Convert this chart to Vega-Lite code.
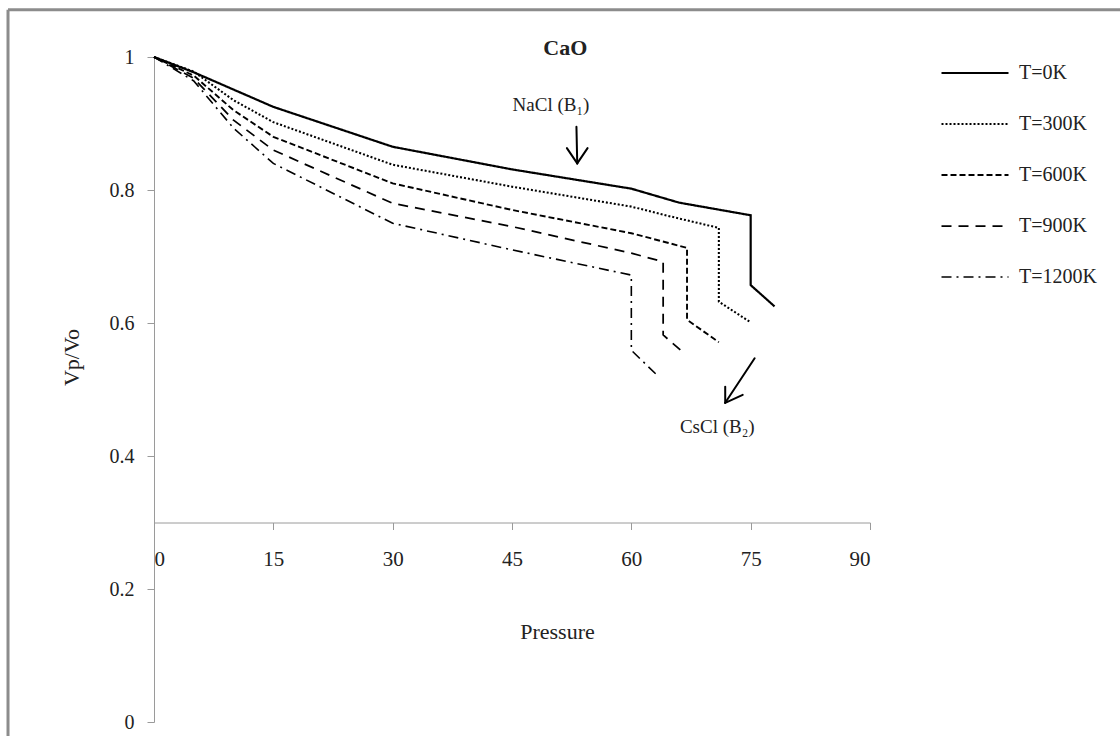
{
  "$schema": "https://vega.github.io/schema/vega-lite/v6.json",
  "width": 716,
  "height": 665,
  "autosize": {"type": "none"},
  "padding": {"left": 154, "top": 57, "right": 250, "bottom": 14},
  "background": "white",
  "config": {
    "view": {"stroke": null},
    "font": "Liberation Serif",
    "axis": {"labelFont": "Liberation Serif", "titleFont": "Liberation Serif", "grid": false, "domainColor": "#9a9a9a", "tickColor": "#9a9a9a", "labelColor": "#222", "titleColor": "#222", "titleFontWeight": "normal"},
    "legend": {"labelFont": "Liberation Serif"}
  },
  "datasets": {
    "curves": [
      {"P": 0, "V": 1, "T": "T=0K", "i": 0},
      {"P": 5, "V": 0.977, "T": "T=0K", "i": 1},
      {"P": 10, "V": 0.951, "T": "T=0K", "i": 2},
      {"P": 15, "V": 0.925, "T": "T=0K", "i": 3},
      {"P": 30, "V": 0.865, "T": "T=0K", "i": 4},
      {"P": 45, "V": 0.831, "T": "T=0K", "i": 5},
      {"P": 60, "V": 0.802, "T": "T=0K", "i": 6},
      {"P": 66, "V": 0.781, "T": "T=0K", "i": 7},
      {"P": 75, "V": 0.762, "T": "T=0K", "i": 8},
      {"P": 75, "V": 0.657, "T": "T=0K", "i": 9},
      {"P": 78, "V": 0.625, "T": "T=0K", "i": 10},
      {"P": 0, "V": 1, "T": "T=300K", "i": 0},
      {"P": 5, "V": 0.978, "T": "T=300K", "i": 1},
      {"P": 10, "V": 0.935, "T": "T=300K", "i": 2},
      {"P": 15, "V": 0.902, "T": "T=300K", "i": 3},
      {"P": 30, "V": 0.838, "T": "T=300K", "i": 4},
      {"P": 45, "V": 0.805, "T": "T=300K", "i": 5},
      {"P": 60, "V": 0.775, "T": "T=300K", "i": 6},
      {"P": 65, "V": 0.76, "T": "T=300K", "i": 7},
      {"P": 71, "V": 0.743, "T": "T=300K", "i": 8},
      {"P": 71, "V": 0.632, "T": "T=300K", "i": 9},
      {"P": 75, "V": 0.601, "T": "T=300K", "i": 10},
      {"P": 0, "V": 1, "T": "T=600K", "i": 0},
      {"P": 5, "V": 0.972, "T": "T=600K", "i": 1},
      {"P": 10, "V": 0.92, "T": "T=600K", "i": 2},
      {"P": 15, "V": 0.88, "T": "T=600K", "i": 3},
      {"P": 30, "V": 0.81, "T": "T=600K", "i": 4},
      {"P": 45, "V": 0.77, "T": "T=600K", "i": 5},
      {"P": 60, "V": 0.735, "T": "T=600K", "i": 6},
      {"P": 67, "V": 0.713, "T": "T=600K", "i": 7},
      {"P": 67, "V": 0.605, "T": "T=600K", "i": 8},
      {"P": 71, "V": 0.571, "T": "T=600K", "i": 9},
      {"P": 0, "V": 1, "T": "T=900K", "i": 0},
      {"P": 5, "V": 0.968, "T": "T=900K", "i": 1},
      {"P": 10, "V": 0.905, "T": "T=900K", "i": 2},
      {"P": 15, "V": 0.86, "T": "T=900K", "i": 3},
      {"P": 30, "V": 0.78, "T": "T=900K", "i": 4},
      {"P": 45, "V": 0.745, "T": "T=900K", "i": 5},
      {"P": 60, "V": 0.705, "T": "T=900K", "i": 6},
      {"P": 64, "V": 0.692, "T": "T=900K", "i": 7},
      {"P": 64, "V": 0.582, "T": "T=900K", "i": 8},
      {"P": 66.5, "V": 0.556, "T": "T=900K", "i": 9},
      {"P": 0, "V": 1, "T": "T=1200K", "i": 0},
      {"P": 5, "V": 0.964, "T": "T=1200K", "i": 1},
      {"P": 10, "V": 0.893, "T": "T=1200K", "i": 2},
      {"P": 15, "V": 0.84, "T": "T=1200K", "i": 3},
      {"P": 30, "V": 0.75, "T": "T=1200K", "i": 4},
      {"P": 45, "V": 0.71, "T": "T=1200K", "i": 5},
      {"P": 60, "V": 0.672, "T": "T=1200K", "i": 6},
      {"P": 60, "V": 0.559, "T": "T=1200K", "i": 7},
      {"P": 63.2, "V": 0.522, "T": "T=1200K", "i": 8}
    ],
    "arrows": [
      {"x": 53.1, "y": 0.895, "x2": 53.2, "y2": 0.84},
      {"x": 53.2, "y": 0.84, "x2": 51.9, "y2": 0.863},
      {"x": 53.2, "y": 0.84, "x2": 54.5, "y2": 0.863},
      {"x": 75.5, "y": 0.547, "x2": 71.8, "y2": 0.48},
      {"x": 71.8, "y": 0.48, "x2": 71.8, "y2": 0.504},
      {"x": 71.8, "y": 0.48, "x2": 74.0, "y2": 0.492}
    ],
    "frame": [
      {"x": -18.35, "y": -0.03, "x2": -18.35, "y2": 1.071},
      {"x": -18.35, "y": 1.071, "x2": 125, "y2": 1.071}
    ],
    "notes": [
      {"x": 49.9, "y": 0.928, "label": "NaCl (B₁)"},
      {"x": 70.8, "y": 0.444, "label": "CsCl (B₂)"}
    ],
    "title": [
      {"x": 51.7, "y": 1.013, "label": "CaO"}
    ]
  },
  "layer": [
    {
      "data": {"name": "frame"},
      "mark": {"type": "rule", "stroke": "#8c8c8c", "strokeWidth": 3, "clip": false},
      "encoding": {
        "x": {"field": "x", "type": "quantitative", "scale": {"domain": [0, 90]}},
        "y": {"field": "y", "type": "quantitative", "scale": {"domain": [0, 1]}},
        "x2": {"field": "x2"},
        "y2": {"field": "y2"}
      }
    },
    {
      "data": {"name": "curves"},
      "mark": {"type": "line", "color": "black", "strokeCap": "butt"},
      "encoding": {
        "x": {
          "field": "P", "type": "quantitative",
          "scale": {"domain": [0, 90], "nice": false},
          "axis": {
            "values": [0, 15, 30, 45, 60, 75, 90],
            "offset": -199.5,
            "tickSize": 7,
            "labelPadding": 19,
            "labelFontSize": 21,
            "title": "Pressure",
            "titleFontSize": 22,
            "titleX": 403,
            "titleY": 99,
            "titleBaseline": "top"
          }
        },
        "y": {
          "field": "V", "type": "quantitative",
          "scale": {"domain": [0, 1], "nice": false},
          "axis": {
            "values": [0, 0.2, 0.4, 0.6, 0.8, 1],
            "format": "~g",
            "tickSize": 7,
            "labelPadding": 13,
            "labelFontSize": 20,
            "title": "Vp/Vo",
            "titleFontSize": 22,
            "titleAngle": -90,
            "titleX": -76,
            "titleY": 300,
            "titleBaseline": "alphabetic"
          }
        },
        "order": {"field": "i", "type": "quantitative"},
        "strokeDash": {
          "field": "T", "type": "nominal",
          "scale": {
            "domain": ["T=0K", "T=300K", "T=600K", "T=900K", "T=1200K"],
            "range": [[1, 0], [2, 2], [6, 3], [10, 7], [10, 5, 2, 5]]
          },
          "legend": {
            "title": null,
            "orient": "none",
            "legendX": 786,
            "legendY": -8.5,
            "padding": 0,
            "symbolType": "stroke",
            "symbolSize": 4489,
            "symbolStrokeWidth": 2,
            "symbolStrokeColor": "black",
            "labelFontSize": 20,
            "labelColor": "#222",
            "labelOffset": 9,
            "clipHeight": 49,
            "rowPadding": 2
          }
        },
        "strokeWidth": {
          "field": "T", "type": "nominal",
          "scale": {
            "domain": ["T=0K", "T=300K", "T=600K", "T=900K", "T=1200K"],
            "range": [2.2, 1.6, 2, 2, 2]
          },
          "legend": null
        }
      }
    },
    {
      "data": {"name": "arrows"},
      "mark": {"type": "rule", "stroke": "black", "strokeWidth": 2, "strokeCap": "round"},
      "encoding": {
        "x": {"field": "x", "type": "quantitative"},
        "y": {"field": "y", "type": "quantitative"},
        "x2": {"field": "x2"},
        "y2": {"field": "y2"}
      }
    },
    {
      "data": {"name": "notes"},
      "mark": {"type": "text", "font": "Liberation Serif", "fontSize": 19, "color": "#222", "baseline": "middle", "align": "center"},
      "encoding": {
        "x": {"field": "x", "type": "quantitative"},
        "y": {"field": "y", "type": "quantitative"},
        "text": {"field": "label"}
      }
    },
    {
      "data": {"name": "title"},
      "mark": {"type": "text", "font": "Liberation Serif", "fontSize": 22, "fontWeight": "bold", "color": "#222", "baseline": "middle", "align": "center", "clip": false},
      "encoding": {
        "x": {"field": "x", "type": "quantitative"},
        "y": {"field": "y", "type": "quantitative"},
        "text": {"field": "label"}
      }
    }
  ]
}
